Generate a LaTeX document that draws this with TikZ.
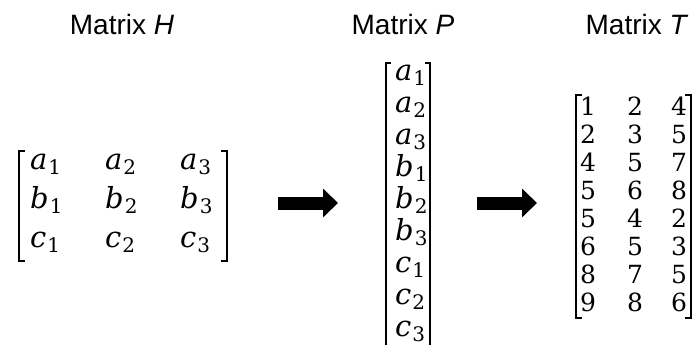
\documentclass[tikz,border=0pt]{standalone}
\usepackage{fontspec}
\newfontfamily\arialfont{Liberation Sans}
\newfontfamily\serifit{DejaVu Serif Italic}
\newfontfamily\serifrm{DejaVu Serif}
\usetikzlibrary{arrows.meta}
\newcommand\ent[2]{{\serifit\fontsize{29}{32}\selectfont #1}\kern1pt{\serifrm\fontsize{20}{20}\selectfont\raisebox{-5pt}{#2}}}
\tikzset{
  title/.style={font=\arialfont\fontsize{28}{32}\selectfont, anchor=base, inner sep=0pt},
  entry/.style={anchor=base west, inner sep=0pt},
  digit/.style={font=\serifrm\fontsize{25}{28}\selectfont, anchor=base west, inner sep=0pt},
  brk/.style={line width=2pt, line cap=butt, line join=miter},
  bigarrow/.style={line width=13pt, -{Triangle[length=15pt,width=28pt]}}
}
\begin{document}
\begin{tikzpicture}[x=1pt,y=-1pt]
\clip (0,0) rectangle (696,345);
\fill[white] (0,0) rectangle (696,345);
% titles
\node[title] (tH) at (122,35) {Matrix \textit{H}};
\node[title] (tP) at (403,35) {Matrix \textit{P}};
\node[title] (tT) at (637,35) {Matrix \textit{T}};
% Matrix H
\foreach \l [count=\r] in {a,b,c}{
  \foreach \x [count=\c] in {30,105,180}{
    \node[entry] (h-\r-\c) at (\x,{169+39*(\r-1)}) {\ent{\l}{\c}};
  }
}
\draw[brk] (25,151) -- (19,151) -- (19,261) -- (25,261);
\draw[brk] (221,151) -- (227,151) -- (227,261) -- (221,261);
% arrow 1
\coordinate (a1s) at (278,203);
\coordinate (a1e) at (338,203);
\draw[bigarrow] (a1s) -- (a1e);
% Matrix P
\foreach \l/\s [count=\i] in {a/1,a/2,a/3,b/1,b/2,b/3,c/1,c/2,c/3}{
  \node[entry] (p-\i) at (395,{81+31.9*(\i-1)}) {\ent{\l}{\s}};
}
\draw[brk] (391,63) -- (386,63) -- (386,360);
\draw[brk] (425,63) -- (430,63) -- (430,360);
% arrow 2
\coordinate (a2s) at (477,203);
\coordinate (a2e) at (537,203);
\draw[bigarrow] (a2s) -- (a2e);
% Matrix T
\foreach \a/\b/\cc [count=\r] in {1/2/4,2/3/5,4/5/7,5/6/8,5/4/2,6/5/3,8/7/5,9/8/6}{
  \node[digit] (t-\r-1) at (580,{115+28.1*(\r-1)}) {\a};
  \node[digit] (t-\r-2) at (627,{115+28.1*(\r-1)}) {\b};
  \node[digit] (t-\r-3) at (671,{115+28.1*(\r-1)}) {\cc};
}
\draw[brk] (582,95) -- (576,95) -- (576,318) -- (582,318);
\draw[brk] (685,95) -- (691,95) -- (691,318) -- (685,318);
\end{tikzpicture}
\end{document}
